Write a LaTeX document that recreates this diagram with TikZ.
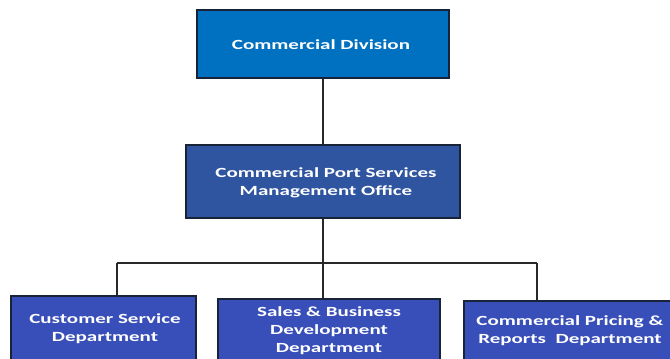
\documentclass[tikz,border=0pt]{standalone}
\usepackage{fontspec}
\setmainfont[FakeStretch=1.5,BoldFont={Carlito Bold}]{Carlito}
\definecolor{topblue}{RGB}{0,112,192}
\definecolor{midblue}{RGB}{47,84,160}
\definecolor{lowblue}{RGB}{56,78,184}
\definecolor{edge}{RGB}{25,35,55}
\definecolor{wire}{RGB}{40,40,40}
\begin{document}
\begin{tikzpicture}[x=1pt,y=1pt,
  box/.style={draw=edge,line width=1.3pt,rectangle,inner sep=0pt},
  lbl/.style={text=white,font=\fontsize{14}{18}\selectfont\bfseries,align=center,inner sep=0pt},
  wireline/.style={draw=wire,line width=1.1pt}]
\useasboundingbox (0,0) rectangle (670,-359);
\clip (0,0) rectangle (670,-359);
% boxes
\node[box,fill=topblue,minimum width=252pt,minimum height=68pt] (top) at (323,-44) {};
\node[lbl] (toptxt) at (321,-45) {Commercial Division};
\node[box,fill=midblue,minimum width=274pt,minimum height=73pt] (mid) at (323,-181.5) {};
\node[lbl] (midtxt) at (326,-183) {Commercial Port Services\\Management Office};
\node[box,fill=lowblue,minimum width=185pt,minimum height=100pt] (b1) at (103.5,-346) {};
\node[lbl] (b1txt) at (105,-329) {Customer Service\\Department};
\node[box,fill=lowblue,minimum width=222pt,minimum height=100pt] (b2) at (329,-349) {};
\node[lbl] (b2txt) at (329,-331) {Sales \& Business\\Development\\Department};
\node[box,fill=lowblue,minimum width=220pt,minimum height=100pt] (b3) at (574,-351) {};
\node[lbl] (b3txt) at (570,-331) {Commercial Pricing \&\\Reports\ \ Department};
% connectors
\coordinate (busL) at (117,-263);
\coordinate (busR) at (537,-263);
\draw[wireline] (top.south) -- (mid.north);
\draw[wireline] (mid.south) -- (mid.south |- busL);
\draw[wireline] (busL) -- (busR);
\draw[wireline] (busL) -- (busL |- b1.north);
\draw[wireline] (mid.south |- busL) -- (mid.south |- b2.north);
\draw[wireline] (busR) -- (busR |- b3.north);
\end{tikzpicture}
\end{document}
